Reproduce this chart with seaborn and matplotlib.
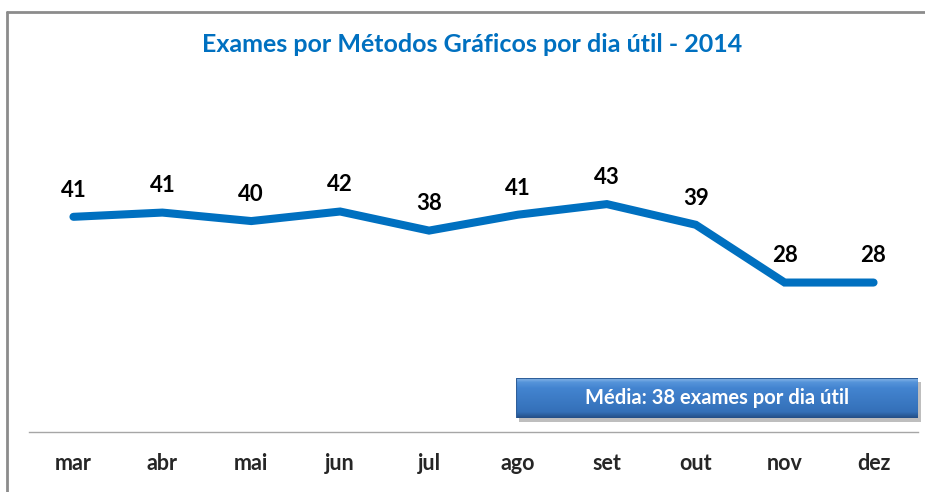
import matplotlib.pyplot as plt
import numpy as np
import pandas as pd
import seaborn as sns
from matplotlib.colors import LinearSegmentedColormap
from matplotlib.lines import Line2D
from matplotlib.patches import Rectangle

# dados (rótulos arredondados)
meses = ['mar', 'abr', 'mai', 'jun', 'jul', 'ago', 'set', 'out', 'nov', 'dez']
exames = [40.6, 41.4, 39.8, 41.6, 38.0, 41.0, 43.0, 39.1, 28.2, 28.2]
titulo = 'Exames por Métodos Gráficos por dia útil - 2014'
media_texto = 'Média: 38 exames por dia útil'

azul = '#0070C0'
cinza = '#A6A6A6'

sns.set_style("white")
plt.rcParams['font.family'] = ['Lato', 'DejaVu Sans']

W, H = 925, 492
fig = plt.figure(figsize=(W / 100, H / 100), dpi=100)
ax = fig.add_axes([29 / W, 60 / H, 889 / W, 265 / H])
ax.set_facecolor('none')

df = pd.DataFrame({'mes': meses, 'exames': exames})
sns.lineplot(data=df, x='mes', y='exames', ax=ax, sort=False, color=azul,
             linewidth=5.8, solid_capstyle='round', solid_joinstyle='miter')

# rótulos de dados
for i, v in enumerate(exames):
    ax.annotate(f"{v:.0f}", (i, v), xytext=(0, 14.5), textcoords='offset points',
                ha='center', va='baseline', fontsize=16, fontweight='bold', color='black')

ax.set_xlim(-0.5, len(meses) - 0.5)
ax.set_ylim(0, 50)
ax.set_yticks([])
ax.set_xlabel('')
ax.set_ylabel('')
ax.set_xticks(range(len(meses)))
ax.set_xticklabels(meses, fontsize=15.5, fontweight='bold')
ax.set_xticks(np.arange(-0.5, len(meses)), minor=True)
ax.tick_params(axis='x', which='major', length=0, pad=15)
ax.tick_params(axis='x', which='minor', length=4.5, width=1, color=cinza, direction='out')
for s in ['top', 'left', 'right']:
    ax.spines[s].set_visible(False)
ax.spines['bottom'].set_color(cinza)
ax.spines['bottom'].set_linewidth(1)

# título
fig.text(472 / W, 1 - 45 / H, titulo, ha='center', va='center',
         color=azul, fontsize=18, fontweight='bold')

# caixa da média com gradiente e sombra
bx0, by0, bw, bh = 516, 378, 402, 40
fig.add_artist(Rectangle(((bx0 + 3) / W, 1 - (by0 + bh + 4) / H), bw / W, bh / H,
                         transform=fig.transFigure, facecolor='#7f7f7f', alpha=0.5,
                         edgecolor='none', zorder=-1))
bx = fig.add_axes([bx0 / W, 1 - (by0 + bh) / H, bw / W, bh / H])
cmap = LinearSegmentedColormap.from_list(
    'caixa', [(0, '#244f86'), (0.15, '#3470b8'), (0.75, '#4384d0'), (0.9, '#5594da'), (1, '#8ab8e8')])
grad = np.linspace(0, 1, 100).reshape(-1, 1)
bx.imshow(grad, aspect='auto', cmap=cmap, extent=[0, 1, 0, 1], origin='lower')
bx.set_xlim(0, 1)
bx.set_ylim(0, 1)
bx.axis('off')
bx.add_patch(Rectangle((0, 0), 1, 1, transform=bx.transAxes, facecolor='none',
                       edgecolor='#2f5f9a', lw=0.8))
bx.text(0.5, 0.5, media_texto, ha='center', va='center', color='white',
        fontsize=14.5, fontweight='bold')

# moldura
fig.add_artist(Line2D([7 / W, 7 / W], [0, 1 - 12 / H], color='#8c8c8c', lw=2,
                      transform=fig.transFigure))
fig.add_artist(Line2D([7 / W, 1], [1 - 12 / H, 1 - 12 / H], color='#8c8c8c', lw=2,
                      transform=fig.transFigure))

fig.savefig('out.png', dpi=100)
